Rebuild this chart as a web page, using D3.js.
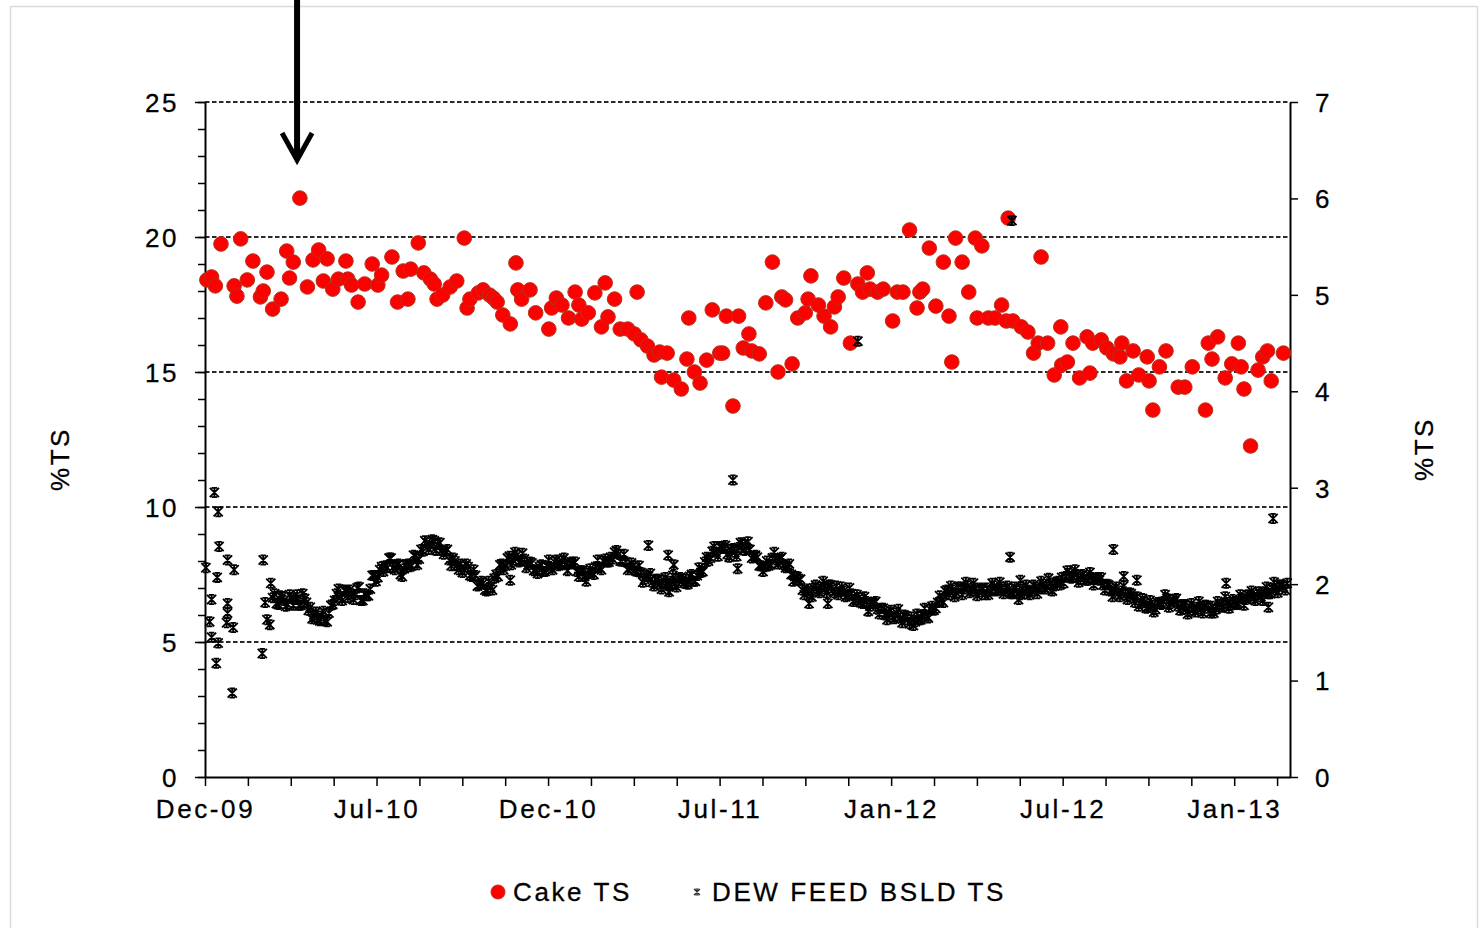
<!DOCTYPE html>
<html>
<head>
<meta charset="utf-8">
<script src="https://cdn.jsdelivr.net/npm/d3@7"></script>
<style>
  body { margin: 0; background: #fff; }
  svg { display: block; }
  text { font-family: "Liberation Sans", Arial, sans-serif; fill: #000; stroke: #000; stroke-width: 0.3px; }
</style>
</head>
<body>
<svg id="chart" width="1481" height="928"></svg>
<script>
// ---- data -------------------------------------------------------------
// x positions are days since the start of the record (Dec-09)
const xTickLabels = ["Dec-09", "Jul-10", "Dec-10", "Jul-11", "Jan-12", "Jul-12", "Jan-13"];
const leftTicks = [0, 5, 10, 15, 20, 25];
const rightTicks = [0, 1, 2, 3, 4, 5, 6, 7];

// Dewatered cake total solids (%), left axis
const cakeDay = [2,7,11,17,31,34,38,45,51,59,62,66,72,81,87,90,94,101,109,115,
  121,126,130,136,142,150,152,156,163,170,178,184,188,199,205,211,216,219,227,233,
  240,244,247,253,261,268,276,279,282,291,296,303,307,311,317,325,331,333,337,346,
  352,366,369,374,380,387,394,398,401,408,415,422,426,429,436,442,450,457,460,464,
  471,478,484,486,492,499,507,513,515,521,527,534,540,548,551,555,562,568,573,579,
  582,590,597,604,610,614,618,625,631,639,642,645,653,659,666,670,674,680,687,695,
  700,705,708,716,722,732,737,743,750,758,761,764,771,778,786,792,795,799,806,813,
  820,822,827,834,841,848,853,855,860,869,876,882,887,890,897,904,911,912,918,924,
  931,939,942,945,954,960,967,974,976,981,988,994,1003,1005,1009,1016,1023,1036,1043,1051,
  1065,1068,1072,1078,1086,1093,1100,1103,1106,1113,1121,1126,1131,1135,1148];
const cakeTS = [18.41,18.52,18.19,19.74,18.19,17.81,19.93,18.41,19.11,17.78,
  18.00,18.70,17.33,17.70,19.48,18.48,19.07,21.44,18.15,19.15,
  19.52,18.37,19.19,18.07,18.44,19.11,18.44,18.22,17.59,18.26,
  19.00,18.22,18.59,19.26,17.59,18.74,17.70,18.81,19.78,18.67,
  18.44,18.26,17.70,17.85,18.15,18.37,19.96,17.37,17.70,17.93,
  18.04,17.85,17.74,17.59,17.11,16.78,19.04,18.04,17.70,18.04,
  17.19,16.59,17.37,17.74,17.48,17.00,17.96,17.48,16.96,17.19,
  17.93,16.67,18.30,17.04,17.70,16.59,16.59,16.41,17.96,16.19,
  15.96,15.63,15.74,14.81,15.70,14.70,14.37,15.48,17.00,15.00,
  14.59,15.44,17.30,15.70,15.70,17.07,13.74,17.07,15.89,16.41,
  15.78,15.67,17.56,19.07,15.00,17.78,17.67,15.30,17.00,17.19,
  17.70,18.56,17.48,17.07,16.67,17.41,17.78,18.48,16.07,18.26,
  17.96,18.67,18.07,17.96,18.07,16.89,17.96,17.96,20.26,17.37,
  17.96,18.07,19.59,17.44,19.07,17.07,15.37,19.96,19.07,17.96,
  19.96,17.00,19.67,17.00,17.00,17.48,16.89,20.70,16.89,16.67,
  16.48,15.70,16.07,19.26,16.07,14.89,16.67,15.26,15.37,16.07,
  14.78,16.30,14.96,16.07,16.19,15.89,15.67,15.56,16.07,14.67,
  15.78,14.89,15.56,14.67,13.59,15.19,15.78,14.44,14.44,15.19,
  13.59,16.07,15.48,16.30,14.78,15.30,16.07,15.19,14.37,12.26,
  15.07,15.56,15.78,14.67,15.70];

// Dewatering feed biosolids total solids (%), right axis
// start-up grab samples and off-trend readings
const feedSpotDay = [1,5,7,7,10,12,13,14,14,15,23,24,24,24,29,30,31,61,62,64,66,69,70,
  325,472,493,494,499,562,567,643,663,695,859,857,868,967,978,992,1087,1132,1137];
const feedSpotTS = [2.17,1.61,1.84,1.45,2.95,1.18,2.07,2.75,1.39,2.39,1.60,2.25,1.80,1.70,0.87,1.55,2.15,1.28,2.25,1.81,1.63,1.58,2.01,
  2.04,2.40,2.30,1.92,2.20,3.08,2.16,1.80,1.80,4.52,5.77,2.28,2.04,2.36,2.08,2.04,2.01,1.76,2.68];
// routine readings, first sampling point: every 4 days from day 72
const feedRoutineAStart = 72;
const feedRoutineAStep = 4;
const feedRoutineA = [
  1.86,1.80,1.88,1.83,1.79,1.86,1.84,1.78,1.90,1.81,
  1.76,1.68,1.63,1.67,1.62,1.70,1.79,1.90,1.86,1.94,
  1.86,1.90,1.89,1.97,1.83,1.88,1.95,2.09,2.07,2.18,
  2.19,2.27,2.17,2.20,2.10,2.16,2.21,2.19,2.29,2.26,
  2.34,2.43,2.39,2.45,2.41,2.35,2.34,2.25,2.27,2.19,
  2.21,2.15,2.18,2.08,2.09,1.99,2.01,1.93,1.97,2.06,
  2.08,2.21,2.19,2.29,2.25,2.30,2.24,2.26,2.20,2.22,
  2.15,2.18,2.13,2.19,2.17,2.23,2.19,2.24,2.20,2.22,
  2.21,2.13,2.14,2.08,2.11,2.12,2.18,2.17,2.24,2.23,
  2.28,2.33,2.31,2.24,2.23,2.17,2.19,2.13,2.12,2.05,
  2.08,2.02,2.05,2.00,2.04,1.99,2.03,2.01,2.06,2.03,
  2.05,2.08,2.03,2.09,2.12,2.23,2.24,2.34,2.33,2.39,
  2.37,2.31,2.36,2.33,2.38,2.41,2.38,2.36,2.29,2.28,
  2.19,2.18,2.19,2.27,2.25,2.26,2.20,2.18,2.10,2.08,
  2.04,1.94,1.93,1.91,1.96,1.93,1.97,1.95,1.99,1.94,
  1.98,1.92,1.93,1.88,1.90,1.84,1.86,1.80,1.82,1.77,
  1.80,1.74,1.75,1.68,1.71,1.66,1.70,1.65,1.68,1.63,
  1.66,1.61,1.63,1.68,1.67,1.74,1.73,1.81,1.83,1.93,
  1.89,1.94,1.91,1.97,1.95,1.98,1.93,1.96,1.92,1.95,
  1.96,1.93,1.98,1.94,1.97,1.93,1.95,1.90,1.93,1.89,
  1.90,1.94,1.93,1.97,1.95,2.00,1.97,2.01,1.98,2.03,
  2.07,2.08,2.11,2.07,2.10,2.05,2.08,2.04,2.07,2.05,
  2.04,1.99,2.00,1.93,1.95,1.90,1.93,1.89,1.91,1.86,
  1.87,1.80,1.81,1.76,1.78,1.74,1.80,1.82,1.85,1.80,
  1.82,1.77,1.79,1.74,1.77,1.73,1.76,1.74,1.78,1.75,
  1.77,1.74,1.79,1.77,1.81,1.78,1.82,1.80,1.85,1.84,
  1.88,1.85,1.89,1.87,1.92,1.90,1.96,1.94,1.99,1.97,
  2.01];
// routine readings, second sampling point: every 4 days from day 74
const feedRoutineBStart = 74;
const feedRoutineBStep = 4;
const feedRoutineB = [
  1.90,1.79,1.87,1.77,1.89,1.78,1.89,1.78,1.85,1.73,
  1.64,1.71,1.62,1.72,1.61,1.78,1.83,1.95,1.83,1.93,
  1.94,1.84,1.96,1.83,1.90,1.88,2.09,2.03,2.15,2.13,
  2.17,2.27,2.15,2.21,2.08,2.20,2.18,2.30,2.20,2.36,
  2.45,2.36,2.46,2.35,2.43,2.31,2.36,2.19,2.24,2.15,
  2.12,2.21,2.09,2.15,1.98,2.03,1.94,2.03,1.94,2.10,
  2.20,2.15,2.27,2.20,2.33,2.23,2.32,2.17,2.23,2.14,
  2.11,2.20,2.13,2.25,2.15,2.25,2.20,2.27,2.14,2.23,
  2.23,2.08,2.14,2.03,2.16,2.10,2.25,2.15,2.26,2.23,
  2.26,2.35,2.24,2.31,2.15,2.22,2.14,2.19,2.02,2.09,
  2.11,1.98,2.05,1.95,2.07,1.98,2.09,1.97,2.07,2.01,
  2.00,2.10,2.03,2.17,2.13,2.28,2.27,2.39,2.29,2.39,
  2.40,2.28,2.37,2.29,2.43,2.35,2.44,2.27,2.30,2.19,
  2.13,2.24,2.20,2.33,2.21,2.28,2.17,2.21,2.03,2.08,
  2.05,1.89,1.95,1.87,1.99,1.91,2.03,1.91,1.99,1.91,
  1.89,1.97,1.87,1.96,1.82,1.89,1.81,1.87,1.72,1.81,
  1.82,1.69,1.75,1.63,1.73,1.64,1.74,1.60,1.67,1.59,
  1.57,1.69,1.63,1.75,1.65,1.77,1.75,1.88,1.81,1.94,
  1.98,1.87,1.97,1.89,2.02,1.91,2.01,1.88,1.96,1.89,
  1.89,2.01,1.93,2.02,1.90,1.98,1.90,1.97,1.84,1.95,
  1.99,1.89,1.99,1.90,2.03,1.95,2.06,1.93,2.02,1.99,
  2.01,2.14,2.06,2.15,2.02,2.10,2.04,2.12,1.99,2.07,
  2.07,1.94,1.99,1.87,1.97,1.87,1.98,1.84,1.90,1.81,
  1.77,1.85,1.75,1.83,1.71,1.81,1.79,1.89,1.76,1.84,
  1.85,1.73,1.79,1.69,1.80,1.71,1.82,1.70,1.78,1.70,
  1.70,1.82,1.76,1.87,1.75,1.84,1.79,1.89,1.78,1.89,
  1.93,1.83,1.92,1.83,1.97,1.90,2.02,1.91,1.99,1.94];

// annotation arrow marks the cake peak in spring 2010
const arrowDay = 98;

// ---- layout -----------------------------------------------------------
const svg = d3.select("#chart");
const plot = { left: 205, right: 1290, top: 102, bottom: 777 };
const FONT = 26, SPACING = "2.6px";

const xDomainEnd = 1155;
const majorStep = 182.6, minorStep = majorStep / 4;

const x = d3.scaleLinear().domain([0, xDomainEnd]).range([plot.left, plot.right]);
const yL = d3.scaleLinear().domain([0, 25]).range([plot.bottom, plot.top]);
const yR = d3.scaleLinear().domain([0, 7]).range([plot.bottom, plot.top]);

// outer chart border
svg.append("rect")
  .attr("x", 10.5).attr("y", 6.5).attr("width", 1467).attr("height", 925)
  .attr("fill", "#fff").attr("stroke", "#dcdcdc").attr("stroke-width", 1.5);

// dashed horizontal gridlines (major left-axis values)
svg.append("g").selectAll("line")
  .data(leftTicks.filter(d => d > 0))
  .join("line")
  .attr("x1", plot.left).attr("x2", plot.right)
  .attr("y1", d => yL(d)).attr("y2", d => yL(d))
  .attr("stroke", "#2a2a2a").attr("stroke-width", 1.8)
  .attr("stroke-dasharray", "4.5,2.5");

function styleAxis(g) {
  g.selectAll("path.domain").attr("stroke", "#000").attr("stroke-width", 2);
  g.selectAll(".tick line").attr("stroke", "#000").attr("stroke-width", 1.5);
  g.selectAll("text")
    .style("font-size", FONT + "px")
    .style("letter-spacing", SPACING)
    .attr("fill", "#000");
}

// left axis: minor ticks every unit, labelled major ticks every 5
const gLminor = svg.append("g").attr("transform", `translate(${plot.left},0)`)
  .call(d3.axisLeft(yL).tickValues(d3.range(0, 26, 1)).tickSize(7).tickFormat(""));
gLminor.select("path.domain").remove();
styleAxis(gLminor);
const gL = svg.append("g").attr("transform", `translate(${plot.left},0)`)
  .call(d3.axisLeft(yL).tickValues(leftTicks).tickSize(10).tickPadding(16)
    .tickSizeOuter(0).tickFormat(d3.format("d")));
styleAxis(gL);
gL.selectAll("text").attr("dy", "0.36em");

// right axis
const gR = svg.append("g").attr("transform", `translate(${plot.right},0)`)
  .call(d3.axisRight(yR).tickValues(rightTicks).tickSize(8).tickPadding(17)
    .tickSizeOuter(0).tickFormat(d3.format("d")));
styleAxis(gR);
gR.selectAll("text").attr("dy", "0.36em");

// bottom date axis: a tick every quarter-step, label every fourth
const xTickVals = d3.range(0, xDomainEnd + 1, minorStep);
const gB = svg.append("g").attr("transform", `translate(0,${plot.bottom})`)
  .call(d3.axisBottom(x).tickValues(xTickVals).tickSize(9).tickPadding(14).tickSizeOuter(0)
    .tickFormat((d, i) => i % 4 === 0 ? (xTickLabels[i / 4] || "") : ""));
styleAxis(gB);

// axis titles
svg.append("text")
  .attr("transform", "translate(60,459) rotate(-90)")
  .attr("text-anchor", "middle").attr("dy", "0.36em")
  .style("font-size", FONT + "px").style("letter-spacing", SPACING)
  .text("%TS");
svg.append("text")
  .attr("transform", "translate(1424,449) rotate(-90)")
  .attr("text-anchor", "middle").attr("dy", "0.36em")
  .style("font-size", FONT + "px").style("letter-spacing", SPACING)
  .text("%TS");

// ---- series -------------------------------------------------------------
const cake = cakeDay.map((d, i) => ({ day: d, ts: cakeTS[i] }));
const feed = feedSpotDay.map((d, i) => ({ day: d, ts: feedSpotTS[i] }))
  .concat(feedRoutineA.map((v, i) => ({ day: feedRoutineAStart + i * feedRoutineAStep, ts: v })))
  .concat(feedRoutineB.map((v, i) => ({ day: feedRoutineBStart + i * feedRoutineBStep, ts: v })));

const RED = "#ff0000", RED_EDGE = "#b4321c";

svg.append("g").selectAll("circle")
  .data(cake)
  .join("circle")
  .attr("cx", d => x(d.day)).attr("cy", d => yL(d.ts))
  .attr("r", 7.3)
  .attr("fill", RED).attr("stroke", RED_EDGE).attr("stroke-width", 1);

// asterisk marker: crossed diagonals, a vertical stroke and short end caps
function starPath(s) {
  const c = s * 0.6;
  return `M${-s},${-s}L${s},${s}M${-s},${s}L${s},${-s}M0,${-s}L0,${s}` +
         `M${-c},${-s}L${c},${-s}M${-c},${s}L${c},${s}`;
}

svg.append("g").selectAll("path")
  .data(feed)
  .join("path")
  .attr("transform", d => `translate(${x(d.day)},${yR(d.ts)})`)
  .attr("d", starPath(4.6))
  .attr("fill", "none").attr("stroke", "#000").attr("stroke-width", 1.8);

// ---- legend -------------------------------------------------------------
const legend = svg.append("g");
legend.append("circle").attr("cx", 498).attr("cy", 892).attr("r", 7)
  .attr("fill", RED).attr("stroke", RED_EDGE).attr("stroke-width", 1);
legend.append("text").attr("x", 513).attr("y", 892).attr("dy", "0.36em")
  .style("font-size", FONT + "px").style("letter-spacing", SPACING)
  .text("Cake TS");
legend.append("path").attr("transform", "translate(697,892)")
  .attr("d", starPath(3)).attr("fill", "none").attr("stroke", "#333").attr("stroke-width", 1.2);
legend.append("text").attr("x", 712).attr("y", 892).attr("dy", "0.36em")
  .style("font-size", FONT + "px").style("letter-spacing", SPACING)
  .text("DEW FEED BSLD TS");

// ---- annotation arrow -----------------------------------------------------
const ax = x(arrowDay);
const arrow = svg.append("g").attr("stroke", "#000").attr("fill", "none")
  .attr("stroke-linecap", "butt");
arrow.append("line").attr("x1", ax).attr("x2", ax).attr("y1", 0).attr("y2", 158)
  .attr("stroke-width", 6);
arrow.append("path").attr("d", `M${ax - 15},${133}L${ax},${160}L${ax + 15},${133}`)
  .attr("stroke-width", 5).attr("stroke-linejoin", "miter");
</script>
</body>
</html>
